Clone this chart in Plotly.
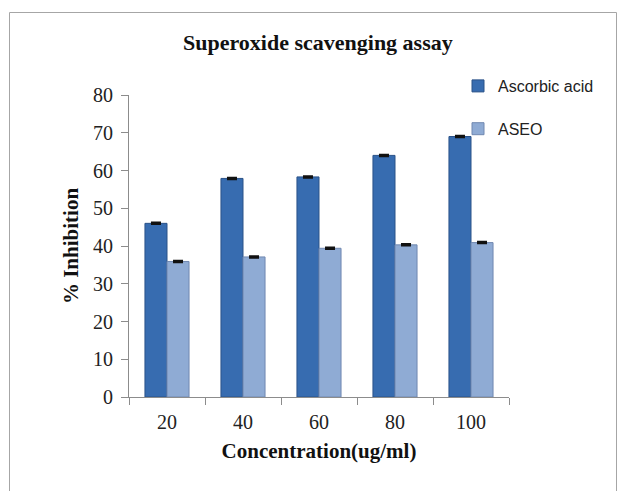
import plotly.graph_objects as go

# Superoxide radical scavenging: % inhibition at each concentration
concentrations = ["20", "40", "60", "80", "100"]
ascorbic_acid = [46.0, 57.9, 58.3, 64.0, 69.0]
aseo = [35.9, 37.1, 39.4, 40.3, 40.9]
ascorbic_err = [0.2, 0.2, 0.2, 0.2, 0.2]
aseo_err = [0.2, 0.2, 0.2, 0.2, 0.2]
y_ticks = [0, 10, 20, 30, 40, 50, 60, 70, 80]

W, H = 628, 491
ML, MR, MT, MB = 129, 119, 95, 94
PW, PH = W - ML - MR, H - MT - MB

fig = go.Figure()
fig.add_trace(go.Bar(
    x=concentrations, y=ascorbic_acid, name="Ascorbic acid",
    legendgroup="a",
    marker=dict(color="#376cb0", line=dict(color="#2a5288", width=1)),
    error_y=dict(type="data", array=ascorbic_err, visible=True,
                 color="#111111", thickness=2, width=5),
))
fig.add_trace(go.Bar(
    x=concentrations, y=aseo, name="ASEO",
    legendgroup="b",
    marker=dict(color="#8fabd4", line=dict(color="#7188b0", width=1)),
    error_y=dict(type="data", array=aseo_err, visible=True,
                 color="#111111", thickness=2, width=5),
))

axis_grey = "#8c8c8c"
serif = "Liberation Serif, Times New Roman, serif"

fig.update_layout(
    width=W, height=H,
    margin=dict(l=ML, r=MR, t=MT, b=MB),
    paper_bgcolor="white", plot_bgcolor="white",
    barmode="group", bargap=0.42, bargroupgap=0,
    showlegend=True,
    legend=dict(
        x=(458 - ML) / PW, y=(H - MB - 69) / PH,
        xanchor="left", yanchor="top",
        font=dict(family="Liberation Sans, Arial, sans-serif", size=16, color="#222222"),
        tracegroupgap=19, bgcolor="rgba(0,0,0,0)",
        itemwidth=30,
    ),
    xaxis=dict(
        type="category", showline=True, linecolor=axis_grey, linewidth=1,
        ticks="outside", tickson="boundaries", ticklen=7, tickcolor=axis_grey,
        showgrid=False, ticklabelstandoff=7,
        tickfont=dict(family=serif, size=20, color="#222222"),
        title=dict(text="<b>Concentration(ug/ml)</b>",
                   font=dict(family=serif, size=21, color="#111111"), standoff=11),
    ),
    yaxis=dict(
        range=[0, 80], tickvals=y_ticks, showline=True, linecolor=axis_grey,
        linewidth=1, ticks="outside", ticklen=7, tickcolor=axis_grey,
        showgrid=False, zeroline=False, ticklabelstandoff=4,
        tickfont=dict(family=serif, size=20, color="#222222"),
        title=dict(text="<b>% Inhibition</b>",
                   font=dict(family=serif, size=21, color="#111111"), standoff=8),
    ),
    annotations=[dict(
        text="<b>Superoxide scavenging assay</b>", xref="paper", yref="paper",
        x=(318 - ML) / PW, y=(H - MB - 42) / PH,
        xanchor="center", yanchor="middle", showarrow=False,
        font=dict(family=serif, size=22, color="#111111"),
    )],
    shapes=[dict(
        type="rect", xref="paper", yref="paper",
        x0=(9.5 - ML) / PW, x1=(616.5 - ML) / PW,
        y0=(H - MB - 500) / PH, y1=(H - MB - 12.5) / PH,
        line=dict(color="#a6a6a6", width=1), fillcolor="rgba(0,0,0,0)",
        layer="below",
    )],
)

fig.write_html("out.html")
